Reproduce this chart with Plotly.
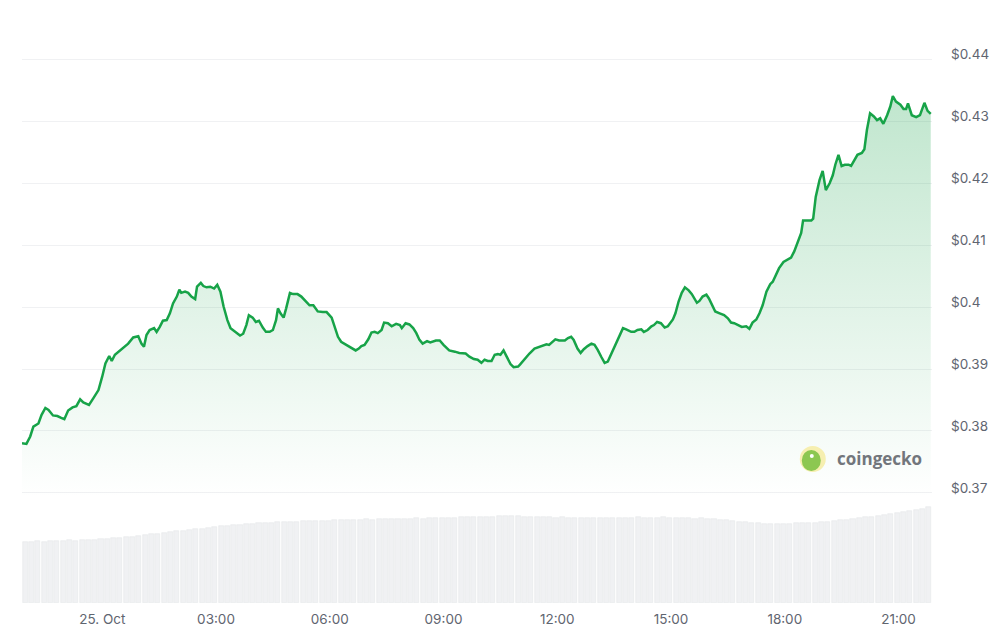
import plotly.graph_objects as go
import pandas as pd

# ---- data -------------------------------------------------------------
window_start = "2024-10-24 21:53"
window_end = "2024-10-25 21:53"

# minutes since window_start
minutes = [
    0, 7, 13, 18, 26, 31, 37, 42, 49, 56, 62, 67, 73, 80, 86, 92, 97, 106, 113, 121,
    127, 132, 138, 142, 147, 158, 168, 176, 184, 189, 193, 197, 202, 209,
    213, 218, 223, 229, 234, 239, 245, 249, 252, 258, 263, 268, 274, 277, 283, 287,
    292, 298, 304, 309, 314, 319, 325, 330, 337, 345, 350, 355, 359, 365, 370, 375,
    381, 386, 392, 397, 402, 405, 409, 414, 418,
    424, 429, 436, 442, 449, 455, 461, 468, 476, 482, 490, 495, 500, 505, 513, 521,
    528, 533, 537, 542, 548, 553, 558, 563, 569, 573, 579, 585, 592, 598, 601, 607,
    613, 619, 624, 629,
    634, 641, 646, 655, 661, 667, 676, 685, 692, 702, 708, 715, 721, 727, 732, 737,
    743, 748, 753, 757, 762, 767, 773, 778, 785, 788, 795, 803, 811, 819, 825, 830,
    834, 839, 844, 850,
    859, 864, 869, 873, 879, 884, 889, 895, 901, 906, 911, 917, 922, 927, 932, 938,
    944, 951, 956, 964, 969, 974, 980, 984, 990, 996, 1000, 1005, 1011, 1017, 1022,
    1030, 1034, 1039, 1044, 1049, 1055, 1060,
    1068, 1072, 1077, 1083, 1087, 1092, 1097, 1104, 1111, 1117, 1122, 1127, 1132,
    1139, 1146, 1151, 1156, 1162, 1167, 1172, 1178, 1184, 1188, 1193, 1198, 1205,
    1211, 1217, 1222, 1227, 1233, 1236, 1243, 1249, 1252, 1256, 1262, 1267, 1272,
    1278, 1283, 1287, 1292, 1297, 1302, 1308, 1312, 1317, 1322, 1329, 1333, 1337,
    1342, 1348, 1353, 1358, 1363, 1369, 1374, 1378, 1383, 1390, 1395, 1399, 1402,
    1408, 1415, 1421, 1428, 1433, 1438,
]

price = [
    0.3780, 0.3779, 0.3791, 0.3807, 0.3812, 0.3826, 0.3837, 0.3834, 0.3825, 0.3824,
    0.3821, 0.3819, 0.3833, 0.3838, 0.3840, 0.3851, 0.3846, 0.3842, 0.3853, 0.3866,
    0.3888, 0.3909, 0.3921, 0.3913, 0.3923, 0.3932, 0.3941, 0.3951, 0.3953, 0.3941,
    0.3936, 0.3955, 0.3963, 0.3966,
    0.3960, 0.3968, 0.3978, 0.3979, 0.3990, 0.4006, 0.4017, 0.4028, 0.4023, 0.4025,
    0.4023, 0.4017, 0.4013, 0.4033, 0.4039, 0.4034, 0.4032, 0.4033, 0.4030, 0.4036,
    0.4025, 0.4001, 0.3979, 0.3966, 0.3960, 0.3954, 0.3957, 0.3971, 0.3987, 0.3983,
    0.3976, 0.3978, 0.3967, 0.3960, 0.3960, 0.3963, 0.3979, 0.3998, 0.3990, 0.3983,
    0.3998,
    0.4023, 0.4021, 0.4021, 0.4017, 0.4010, 0.4003, 0.4003, 0.3993, 0.3992, 0.3992,
    0.3983, 0.3968, 0.3952, 0.3944, 0.3939, 0.3933, 0.3930, 0.3933, 0.3937, 0.3939,
    0.3948, 0.3959, 0.3960, 0.3958, 0.3963, 0.3975, 0.3974, 0.3969, 0.3973, 0.3971,
    0.3966, 0.3974, 0.3972, 0.3966, 0.3958, 0.3947,
    0.3941, 0.3945, 0.3943, 0.3946, 0.3946, 0.3939, 0.3930, 0.3928, 0.3926, 0.3925,
    0.3920, 0.3916, 0.3915, 0.3910, 0.3915, 0.3913, 0.3913, 0.3923, 0.3924, 0.3923,
    0.3930, 0.3920, 0.3908, 0.3903, 0.3904, 0.3907, 0.3916, 0.3925, 0.3933, 0.3936,
    0.3937, 0.3940, 0.3939, 0.3944, 0.3948, 0.3946,
    0.3946, 0.3950, 0.3952, 0.3947, 0.3933, 0.3926, 0.3932, 0.3937, 0.3941, 0.3939,
    0.3931, 0.3919, 0.3910, 0.3912, 0.3923, 0.3936, 0.3950, 0.3966, 0.3964, 0.3960,
    0.3960, 0.3963, 0.3964, 0.3960, 0.3963, 0.3969, 0.3971, 0.3976, 0.3974, 0.3967,
    0.3969, 0.3980, 0.3990, 0.4009, 0.4023, 0.4032, 0.4027, 0.4021,
    0.4007, 0.4010, 0.4017, 0.4020, 0.4014, 0.4003, 0.3993, 0.3990, 0.3987, 0.3982,
    0.3975, 0.3974, 0.3971, 0.3968, 0.3969, 0.3965, 0.3975, 0.3980, 0.3990, 0.4003,
    0.4025, 0.4037, 0.4041, 0.4052, 0.4063, 0.4073, 0.4076, 0.4080, 0.4090, 0.4103,
    0.4120, 0.4140, 0.4140, 0.4140, 0.4143, 0.4178, 0.4205, 0.4220, 0.4189,
    0.4200, 0.4213, 0.4230, 0.4246, 0.4228, 0.4230, 0.4230, 0.4228, 0.4238, 0.4246,
    0.4249, 0.4255, 0.4286, 0.4313, 0.4308, 0.4302, 0.4305, 0.4296, 0.4310, 0.4324,
    0.4341, 0.4332, 0.4327, 0.4320, 0.4320, 0.4329, 0.4310, 0.4307, 0.4310, 0.4330,
    0.4317, 0.4312,
]

# 24h rolling volume, one bar per 10 minutes (arbitrary units)
volume = [
    60, 60, 61, 60, 61, 61, 61, 62, 61, 62, 62, 62,
    63, 63, 64, 64, 65, 65, 66, 67, 68, 68, 69, 70,
    71, 71, 72, 73, 73, 74, 75, 76, 76, 77, 77, 78,
    78, 79, 79, 79, 80, 80, 80, 80, 81, 81, 81, 81,
    81, 82, 82, 82, 82, 82, 83, 82, 83, 83, 83, 83,
    83, 83, 84, 83, 84, 84, 84, 84, 84, 85, 85, 85,
    85, 85, 85, 86, 86, 86, 86, 85, 85, 85, 85, 85,
    84, 85, 84, 84, 84, 84, 84, 84, 84, 84, 84, 84,
    84, 85, 84, 84, 84, 85, 84, 84, 84, 84, 83, 84,
    83, 83, 82, 82, 81, 80, 80, 79, 79, 78, 78, 78,
    78, 78, 79, 79, 79, 79, 80, 80, 81, 82, 82, 83,
    84, 85, 85, 86, 87, 88, 89, 90, 91, 92, 93, 95,
]
volume_step_min = 10

tick_times = ["2024-10-25 00:00", "2024-10-25 03:00", "2024-10-25 06:00",
              "2024-10-25 09:00", "2024-10-25 12:00", "2024-10-25 15:00",
              "2024-10-25 18:00", "2024-10-25 21:00"]
tick_text = ["25. Oct", "03:00", "06:00", "09:00", "12:00", "15:00", "18:00", "21:00"]

price_ticks = [0.37, 0.38, 0.39, 0.40, 0.41, 0.42, 0.43, 0.44]
price_tick_text = ["$0.37", "$0.38", "$0.39", "$0.4", "$0.41", "$0.42", "$0.43", "$0.44"]

# ---- build ------------------------------------------------------------
t0 = pd.Timestamp(window_start)
times = t0 + pd.to_timedelta(minutes, unit="min")
vol_times = t0 + pd.to_timedelta(
    [volume_step_min * i + volume_step_min / 2 for i in range(len(volume))], unit="min")

GREEN = "#17a348"
FONT = "Inter, Roboto, 'Noto Sans', sans-serif"
LABEL = "#5f6570"

fig = go.Figure()

fig.add_trace(go.Bar(
    x=vol_times, y=volume, yaxis="y2",
    marker=dict(color="#f0f1f3", line=dict(width=0.6, color="#e6e8eb")),
    width=volume_step_min * 60 * 1000 * 0.8,
    hoverinfo="skip", showlegend=False,
))

fig.add_trace(go.Scatter(
    x=times, y=price, mode="lines",
    line=dict(color=GREEN, width=2.5),
    fill="tozeroy",
    fillgradient=dict(type="vertical",
                      colorscale=[[0, "rgba(24,163,74,0)"], [1, "rgba(24,163,74,0.28)"]],
                      start=0.369, stop=0.436),
    showlegend=False,
))

fig.update_layout(
    width=1001, height=640,
    margin=dict(l=22, r=69, t=20, b=37),
    paper_bgcolor="white", plot_bgcolor="white",
    bargap=0,
    font=dict(family=FONT, color=LABEL, size=13),
    xaxis=dict(
        range=[window_start, window_end],
        showgrid=False, zeroline=False, showline=False,
        tickvals=tick_times, ticktext=tick_text,
        ticks="", tickfont=dict(size=13.5, color=LABEL, family=FONT),
        ticklabelstandoff=6,
    ),
    yaxis=dict(
        side="right",
        range=[0.35220, 0.44638],
        tickvals=price_ticks, ticktext=price_tick_text,
        showgrid=True, gridcolor="#f0f1f3", gridwidth=1,
        zeroline=False, showline=False, ticks="",
        tickfont=dict(size=13.5, color=LABEL, family=FONT),
        ticklabelstandoff=18, ticklabelshift=-5,
    ),
    yaxis2=dict(
        overlaying="y", range=[0, max(volume) * 6.07],
        visible=False, showgrid=False, zeroline=False,
    ),
)

# coingecko watermark
wx, wy = 0.869, 0.247
fig.add_shape(type="circle", xref="paper", yref="paper",
              xsizemode="pixel", ysizemode="pixel", xanchor=wx, yanchor=wy,
              x0=-13, x1=13, y0=-13, y1=13,
              fillcolor="#f6efb0", line=dict(width=0), layer="above")
fig.add_shape(type="circle", xref="paper", yref="paper",
              xsizemode="pixel", ysizemode="pixel", xanchor=wx, yanchor=wy,
              x0=-11, x1=8, y0=-12, y1=9,
              fillcolor="#8cc751", line=dict(width=0), layer="above")
fig.add_shape(type="circle", xref="paper", yref="paper",
              xsizemode="pixel", ysizemode="pixel", xanchor=wx, yanchor=wy,
              x0=-3, x1=1, y0=1, y1=5,
              fillcolor="white", line=dict(width=0), layer="above")
fig.add_annotation(xref="paper", yref="paper", x=0.8935, y=wy,
                   xanchor="left", yanchor="middle", showarrow=False,
                   text="<b>coingecko</b>",
                   font=dict(family="'Open Sans', Lato, sans-serif", size=17, color="#72767c"))

fig.write_html("out.html", config={"displayModeBar": False},
               post_script="document.body.style.margin='0';")
